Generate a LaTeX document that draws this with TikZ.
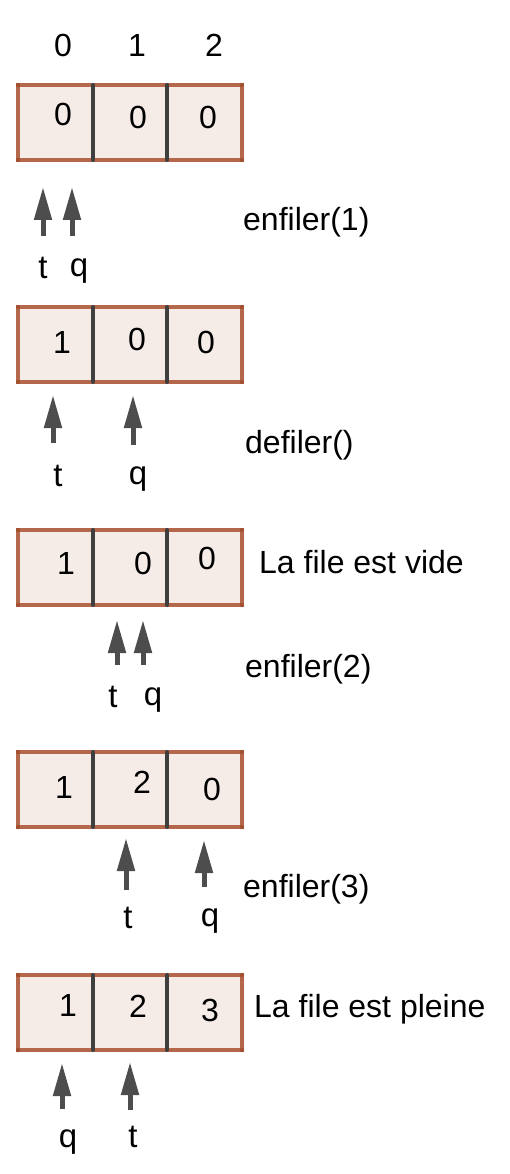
\documentclass[tikz,border=0pt]{standalone}
\usepackage{fontspec}
\setmainfont{Liberation Sans}
\usetikzlibrary{arrows.meta}
\definecolor{cellfill}{HTML}{F5ECE8}
\definecolor{cellborder}{HTML}{B5674B}
\definecolor{cornerdot}{HTML}{A2502F}
\definecolor{divider}{HTML}{3F3F3F}
\definecolor{ptrcol}{HTML}{4D4D4D}
\tikzset{
  arrbox/.style={draw=cellborder, fill=cellfill, line width=4pt, minimum width=224pt,
    minimum height=75pt, inner sep=0pt, outer sep=0pt, anchor=north west},
  divline/.style={draw=divider, line width=4pt, line cap=round},
  ptr/.style={draw=ptrcol, line width=5pt, -{Triangle[width=17pt,length=33pt]}},
  dig/.style={font=\fontsize{32}{36}\selectfont, inner sep=0pt, anchor=center},
  lbl/.style={font=\fontsize{32}{36}\selectfont, inner sep=0pt, anchor=base west},
  ptl/.style={font=\fontsize{33}{36}\selectfont, inner sep=0pt, anchor=base},
}
\newcommand{\queuebox}[2]{%
  \node[arrbox] (#1) at (18,#2) {};
  \draw[divline] ([xshift=75pt]#1.north west) -- ([xshift=75pt]#1.south west);
  \draw[divline] ([xshift=149pt]#1.north west) -- ([xshift=149pt]#1.south west);
  \foreach \c in {north west,north east,south west,south east}
    \fill[cornerdot] (#1.\c) circle (2.2pt);
}
\begin{document}
\begin{tikzpicture}[x=1pt,y=-1pt]
\useasboundingbox[fill=white] (0,0) rectangle (510,1174);

% header indices
\node[dig] (h0) at (63,45) {0};
\node[dig] (h1) at (137,45) {1};
\node[dig] (h2) at (214,45) {2};

% ---- state 1
\queuebox{a1}{85}
\node[dig] (a1c0) at (63,114) {0};
\node[dig] (a1c1) at (138,117) {0};
\node[dig] (a1c2) at (208,117) {0};
\coordinate (a1ts) at (43,236); \coordinate (a1te) at (43,187);
\coordinate (a1qs) at (72,236); \coordinate (a1qe) at (72,187);
\draw[ptr] (a1ts) -- (a1te);
\draw[ptr] (a1qs) -- (a1qe);
\node[ptl] (a1t) at (43,278) {t};
\node[ptl] (a1q) at (79,276) {q};
\node[lbl] (op1) at (243,230) {enfiler(1)};

% ---- state 2
\queuebox{a2}{307}
\node[dig] (a2c0) at (62,342) {1};
\node[dig] (a2c1) at (137,339) {0};
\node[dig] (a2c2) at (206,342) {0};
\coordinate (a2ts) at (53,443); \coordinate (a2te) at (53,395);
\coordinate (a2qs) at (133,445); \coordinate (a2qe) at (133,395);
\draw[ptr] (a2ts) -- (a2te);
\draw[ptr] (a2qs) -- (a2qe);
\node[ptl] (a2t) at (58,486) {t};
\node[ptl] (a2q) at (138,484) {q};
\node[lbl] (op2) at (245,453) {defiler()};

% ---- state 3
\queuebox{a3}{530}
\node[dig] (a3c0) at (66,563) {1};
\node[dig] (a3c1) at (143,563) {0};
\node[dig] (a3c2) at (207,558) {0};
\node[lbl] (st3) at (259,573) {La file est vide};
\coordinate (a3ts) at (117,665); \coordinate (a3te) at (117,620);
\coordinate (a3qs) at (143,665); \coordinate (a3qe) at (143,620);
\draw[ptr] (a3ts) -- (a3te);
\draw[ptr] (a3qs) -- (a3qe);
\node[ptl] (a3t) at (113,707) {t};
\node[ptl] (a3q) at (153,705) {q};
\node[lbl] (op3) at (245,677) {enfiler(2)};

% ---- state 4
\queuebox{a4}{752}
\node[dig] (a4c0) at (64,787) {1};
\node[dig] (a4c1) at (142,782) {2};
\node[dig] (a4c2) at (212,789) {0};
\coordinate (a4ts) at (126,890); \coordinate (a4te) at (126,838);
\coordinate (a4qs) at (204,887); \coordinate (a4qe) at (204,840);
\draw[ptr] (a4ts) -- (a4te);
\draw[ptr] (a4qs) -- (a4qe);
\node[ptl] (a4t) at (128,928) {t};
\node[ptl] (a4q) at (210,926) {q};
\node[lbl] (op4) at (243,897) {enfiler(3)};

% ---- state 5
\queuebox{a5}{975}
\node[dig] (a5c0) at (68,1005) {1};
\node[dig] (a5c1) at (138,1006) {2};
\node[dig] (a5c2) at (210,1010) {3};
\node[lbl] (st5) at (254,1017) {La file est pleine};
\coordinate (a5qs) at (62,1109); \coordinate (a5qe) at (62,1063);
\coordinate (a5ts) at (130,1110); \coordinate (a5te) at (130,1062);
\draw[ptr] (a5qs) -- (a5qe);
\draw[ptr] (a5ts) -- (a5te);
\node[ptl] (a5q) at (68,1147) {q};
\node[ptl] (a5t) at (133,1147) {t};
\end{tikzpicture}
\end{document}
